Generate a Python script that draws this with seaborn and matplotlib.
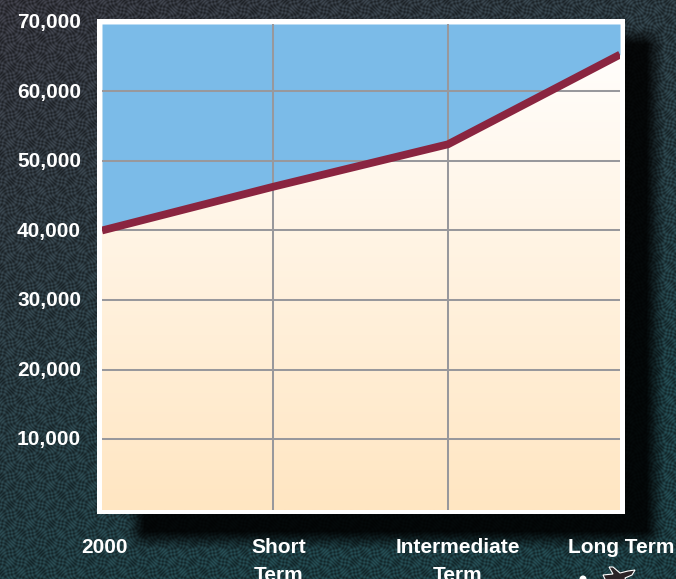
import numpy as np
import pandas as pd
import matplotlib
matplotlib.use("Agg")
import matplotlib.pyplot as plt
import seaborn as sns

periods = [0, 0.993, 2.004, 3]
period_labels = ["2000", "Short\nTerm", "Intermediate\nTerm", "Long Term"]
values = [40000, 46300, 52400, 65300]
y_ticks = [10000, 20000, 30000, 40000, 50000, 60000, 70000]

W, H = 676, 579
L, R, T, B = 102, 620, 24, 510
sns.set_theme(style="white")
plt.rcParams["font.family"] = ["Liberation Sans", "DejaVu Sans"]

fig = plt.figure(figsize=(W / 100, H / 100), dpi=100)

# textured backdrop: gradient, woven pattern and soft drop shadow
bg = fig.add_axes([0, 0, 1, 1], zorder=0)
bg.set_axis_off()
yy, xx = np.mgrid[0:H, 0:W]
tone = np.clip(0.85 * yy / H + 0.45 * xx / W, 0, 1)[..., None]
base = (1 - tone) * np.array([0.20, 0.20, 0.23]) + tone * np.array([0.11, 0.23, 0.25])
weave = (np.sin(xx * 1.05 + 2.8 * np.sin(yy * 0.33)) * np.sin(yy * 1.05 + 2.8 * np.sin(xx * 0.31)))[..., None]
img = base * (1 + 0.36 * weave)
def edge(d, w=18.0):
    return np.clip(d / w + 0.5, 0, 1)
shadow = edge(xx - 135) * edge(655 - xx) * edge(yy - 35) * edge(540 - yy)
img = np.clip(img * (1 - 0.88 * shadow)[..., None], 0, 1)
bg.imshow(img, extent=(0, W, H, 0), aspect="auto", interpolation="bilinear")
bg.set_xlim(0, W)
bg.set_ylim(H, 0)
bg.add_patch(plt.Rectangle((97, 19), 528, 495, fc="white", ec="none"))

# plot area
ax = fig.add_axes([L / W, 1 - B / H, (R - L) / W, (B - T) / H], zorder=1)
df = pd.DataFrame({"period": periods, "value": values})
ymin, ymax = -200, 69700
ramp = np.linspace(0, 1, 256)[:, None, None]
grad = ramp * (np.array([255, 230, 194]) / 255) + (1 - ramp) * np.array([1.0, 1.0, 1.0])
ax.imshow(grad, extent=(0, 3, ymin, ymax), aspect="auto", zorder=0, origin="upper")
ax.fill_between(df["period"], df["value"], ymax, color="#7bbbe8", lw=0, zorder=1)
ax.set_xticks(periods[1:-1])
ax.set_yticks(y_ticks)
ax.set_axisbelow(False)
ax.grid(True, color="#98989c", lw=1.45)
sns.lineplot(data=df, x="period", y="value", color="#8a2540", lw=5.6, ax=ax, zorder=4,
             solid_capstyle="butt", solid_joinstyle="miter")
ax.set_xlim(0, 3)
ax.set_ylim(ymin, ymax)
ax.set_xlabel("")
ax.set_ylabel("")
for s in ax.spines.values():
    s.set_visible(False)
ax.set_xticklabels([])
ax.set_yticklabels([])
ax.tick_params(length=0)

# labels
label_kw = dict(color="white", fontweight="bold", fontsize=15, zorder=5)
for v in y_ticks:
    py = 509.6 - v / 10000 * 69.6
    bg.text(81, py, f"{v:,}", ha="right", va="center", **label_kw)
for cx, lab in zip([104, 279, 458, 621], period_labels):
    bg.text(cx, 538, lab, ha="center", va="top", linespacing=1.6, clip_on=False, **label_kw)

# small aeroplane mark, cut by the lower edge
plane = np.array([[603, 575], [613, 574], [609, 567], [613, 567], [620, 573], [628, 571], [635, 570],
                  [632, 575], [625, 578], [628, 585], [621, 581], [608, 585]])
bg.add_patch(plt.Polygon(plane, fc="#2a2326", ec="white", lw=0.8, zorder=4))
bg.add_patch(plt.Circle((583, 579), 3.5, fc="white", ec="none", zorder=4))
bg.set_xlim(0, W)
bg.set_ylim(H, 0)

fig.savefig("out.png", dpi=100)
